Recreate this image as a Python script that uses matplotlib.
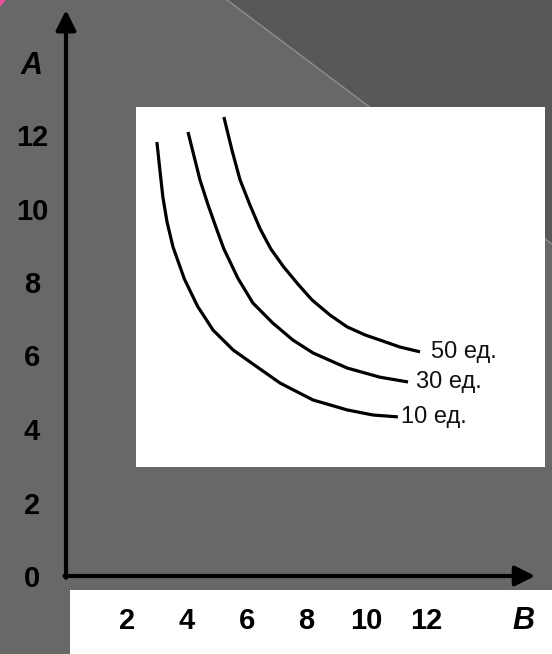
import matplotlib
matplotlib.use("Agg")
import matplotlib.pyplot as plt
from matplotlib.patches import Polygon, Rectangle
import numpy as np

# isoquants (B on x, A on y)
b_10 = [3.04, 3.14, 3.24, 3.38, 3.58, 3.96, 4.40, 4.92, 5.59, 6.39, 7.16, 8.26, 9.40, 10.27, 11.10]
a_10 = [11.81, 11.05, 10.31, 9.63, 8.95, 8.08, 7.34, 6.69, 6.15, 5.69, 5.25, 4.79, 4.52, 4.38, 4.33]
b_30 = [4.08, 4.28, 4.48, 4.75, 5.05, 5.28, 5.75, 6.25, 6.92, 7.59, 8.26, 9.40, 10.50, 11.44]
a_30 = [12.08, 11.43, 10.78, 10.10, 9.41, 8.90, 8.10, 7.43, 6.88, 6.42, 6.07, 5.66, 5.41, 5.28]
b_50 = [5.28, 5.55, 5.82, 6.15, 6.49, 6.85, 7.28, 7.76, 8.23, 8.83, 9.40, 10.00, 10.50, 11.17, 11.84]
a_50 = [12.49, 11.59, 10.78, 10.10, 9.45, 8.90, 8.41, 7.94, 7.51, 7.10, 6.78, 6.56, 6.42, 6.23, 6.10]
curve_labels = ["10 ед.", "30 ед.", "50 ед."]

x_ticks = [2, 4, 6, 8, 10, 12]
y_ticks = [0, 2, 4, 6, 8, 10, 12]

W, H = 552, 654
fig = plt.figure(figsize=(W / 100, H / 100), dpi=100)
fig.patch.set_facecolor("#686868")
ax = fig.add_axes([0, 0, 1, 1])
ax.set_facecolor("none")
ax.axis("off")

# pixel -> data mapping of the slide
x0, y0 = 66, 576
sx, sy = 29.9, 36.75
ax.set_xlim(-x0 / sx, (W - x0) / sx)
ax.set_ylim((y0 - H) / sy, y0 / sy)

def frac(px, py):
    return (px / W, 1 - py / H)

tf = fig.transFigure
# slide background decoration
ax.add_patch(Polygon([frac(227, 0), frac(W, 0), frac(W, 244)], closed=True,
                     facecolor="#585858", edgecolor="none", transform=tf, zorder=0))
ax.plot([227 / W, 1], [1, 1 - 244 / H], color="#8e8e8e", lw=1, transform=tf, zorder=0.5)
ax.add_patch(Polygon([frac(0, 0), frac(6, 0), frac(0, 7)], closed=True,
                     facecolor="#e8509a", edgecolor="none", transform=tf, zorder=0.5))

# white picture and white strip under the axis
ax.add_patch(Rectangle(frac(136, 467), 409 / W, 360 / H, facecolor="white",
                       edgecolor="none", transform=tf, zorder=1))
ax.add_patch(Rectangle(frac(70, H), (W - 70) / W, 64 / H, facecolor="white",
                       edgecolor="none", transform=tf, zorder=1))

# axes with arrows
arrow = dict(arrowstyle="-|>,head_length=0.6,head_width=0.3", color="black",
             lw=3, mutation_scale=20, shrinkA=0, shrinkB=0)
ax.annotate("", xy=(0, 15.4), xytext=(0, -0.05), arrowprops=arrow, zorder=3)
ax.annotate("", xy=(15.69, 0), xytext=(-0.05, 0), arrowprops=arrow, zorder=3)

narrow = ["Liberation Sans Narrow", "DejaVu Sans Condensed", "Liberation Sans", "DejaVu Sans"]
for v in y_ticks:
    ax.text(-1.14, v, str(v), ha="center", va="center_baseline", fontsize=21,
            fontweight="bold", family=narrow, zorder=3)
for v in x_ticks:
    ax.text(v + 0.04, -1.14, str(v), ha="center", va="center_baseline", fontsize=21,
            fontweight="bold", family=narrow, zorder=3)
ax.text(-1.14, 13.98, "A", ha="center", va="center_baseline", fontsize=22,
        fontweight="bold", style="italic", family=narrow, zorder=3)
ax.text(15.29, -1.14, "B", ha="center", va="center_baseline", fontsize=22,
        fontweight="bold", style="italic", family=narrow, zorder=3)

# curves
gaps = [2, 6, 8]
for bs, as_, lab, g in zip([b_10, b_30, b_50], [a_10, a_30, a_50], curve_labels, gaps):
    ax.plot(bs, as_, color="black", lw=2.3, solid_capstyle="butt",
            solid_joinstyle="round", zorder=2)
    ax.annotate(lab, xy=(bs[-1], as_[-1]), xytext=(g, 0), textcoords="offset points",
                ha="left", va="center", fontsize=17, family=["Liberation Sans", "DejaVu Sans"],
                color="#111111", zorder=3)

fig.savefig("out.png", dpi=100, facecolor=fig.get_facecolor())
